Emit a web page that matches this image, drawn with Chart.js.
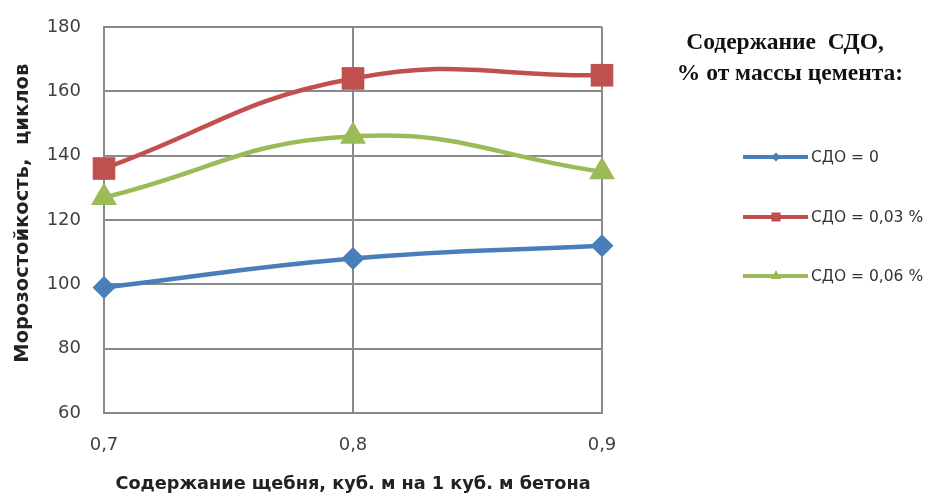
<!DOCTYPE html>
<html>
<head>
<meta charset="utf-8">
<script src="https://cdn.jsdelivr.net/npm/chart.js@4.4.1/dist/chart.umd.min.js"></script>
<style>
  html, body { margin: 0; padding: 0; background: #fff; }
</style>
</head>
<body>
<canvas id="frostChart" width="936" height="497"></canvas>
<script>
// data
const categories = ["0,7", "0,8", "0,9"];
const seriesNames = ["СДО = 0", "СДО = 0,03 %", "СДО = 0,06 %"];
const sdo0 = [99, 108, 112];
const sdo003 = [136, 164, 165];
const sdo006 = [127, 146, 135];
const yTicks = [60, 80, 100, 120, 140, 160, 180];
const legendTitle = ["Содержание  СДО,", "% от массы цемента:"];

const tickFont = { family: "DejaVu Sans", size: 18 };

// legend drawn on the right, like the Excel original
const sideLegend = {
    id: "sideLegend",
    afterDraw(chart) {
        let ctx = chart.ctx;
        ctx.save();
        ctx.fillStyle = "#111";
        ctx.font = "bold 23.5px 'Liberation Serif'";
        ctx.textAlign = "center";
        ctx.textBaseline = "middle";
        ctx.fillText(legendTitle[0], 785, 43);
        ctx.fillText(legendTitle[1], 790, 74);

        let rows = [157, 217, 276];
        chart.data.datasets.forEach(function (ds, i) {
            let y = rows[i];
            ctx.strokeStyle = ds.borderColor;
            ctx.lineWidth = 4;
            ctx.beginPath();
            ctx.moveTo(743, y);
            ctx.lineTo(808, y);
            ctx.stroke();
            ctx.fillStyle = ds.borderColor;
            Chart.helpers.drawPoint(ctx, { pointStyle: ds.pointStyle, radius: ds.pointRadius * 0.4, borderWidth: 0 }, 776, y);
            ctx.fillStyle = "#333";
            ctx.font = "15.5px 'DejaVu Sans'";
            ctx.textAlign = "left";
            ctx.fillText(ds.label, 811, y + 1);
        });
        ctx.restore();
    }
};

new Chart(document.getElementById("frostChart").getContext("2d"), {
    type: "line",
    data: {
        labels: categories,
        datasets: [{
            label: seriesNames[0],
            data: sdo0,
            borderColor: "#4A7EBB",
            backgroundColor: "#4A7EBB",
            pointStyle: "rectRot",
            pointRadius: 11.5
        }, {
            label: seriesNames[1],
            data: sdo003,
            borderColor: "#C0504D",
            backgroundColor: "#C0504D",
            pointStyle: "rect",
            pointRadius: 16
        }, {
            label: seriesNames[2],
            data: sdo006,
            borderColor: "#9BBB59",
            backgroundColor: "#9BBB59",
            pointStyle: "triangle",
            pointRadius: 15
        }]
    },
    options: {
        responsive: false,
        animation: false,
        devicePixelRatio: 1,
        layout: { padding: { left: 0, top: 27, right: 334, bottom: 0 } },
        elements: {
            line: { borderWidth: 4.5, tension: 0.45, fill: false },
            point: { borderWidth: 0, hoverRadius: 12 }
        },
        plugins: {
            legend: { display: false },
            tooltip: { enabled: false }
        },
        scales: {
            x: {
                offset: false,
                grid: { color: "#8A8A8A", lineWidth: 2, drawTicks: false },
                border: { color: "#8A8A8A", width: 2 },
                ticks: { font: tickFont, color: "#404040", padding: 22 },
                title: {
                    display: true,
                    text: "Содержание щебня, куб. м на 1 куб. м бетона",
                    font: { family: "DejaVu Sans", size: 17.7, weight: "bold" },
                    color: "#222",
                    padding: { top: 14, bottom: 2 }
                },
                afterFit: function (scale) {
                    scale.height = 84;
                    scale.paddingTop = 0;
                    scale.paddingBottom = 0;
                }
            },
            y: {
                min: 60,
                max: 180,
                afterBuildTicks: function (scale) {
                    scale.ticks = yTicks.map(function (v) { return { value: v }; });
                },
                grid: { color: "#8A8A8A", lineWidth: 2, drawTicks: false },
                border: { color: "#8A8A8A", width: 2 },
                ticks: { font: tickFont, color: "#404040", padding: 23 },
                title: {
                    display: true,
                    text: "  Морозостойкость,  циклов",
                    font: { family: "DejaVu Sans", size: 19.5, weight: "bold" },
                    color: "#222",
                    padding: { top: 11 }
                },
                afterFit: function (scale) {
                    scale.width = 104;
                    scale.paddingTop = 0;
                    scale.paddingBottom = 0;
                }
            }
        }
    },
    plugins: [sideLegend]
});
</script>
</body>
</html>
